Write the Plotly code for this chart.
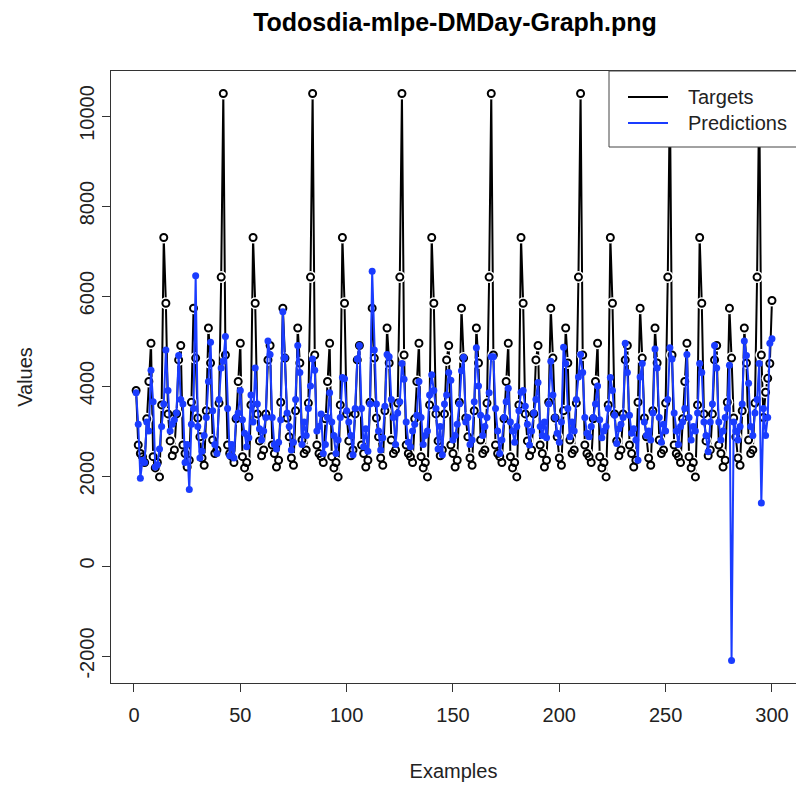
import plotly.graph_objects as go

examples = list(range(1, 301))

targets = [
    3900, 2690, 2500, 2430, 2300, 3270, 4100, 4950, 2430, 2180, 2300, 1980, 3580, 7300,
    5840, 3380, 2780, 2450, 2580, 3380, 4580, 4900, 2690, 2500, 2200, 2350, 3640, 5730,
    4620, 3290, 2870, 2400, 2240, 3450, 5290, 4510, 2800, 2500, 2580, 3620, 6420, 10500,
    4690, 2690, 2500, 2430, 2300, 3270, 4100, 4950, 2430, 2180, 2300, 1980, 3580, 7300,
    5840, 3380, 2780, 2450, 2580, 3380, 4580, 4900, 2690, 2500, 2200, 2350, 3640, 5730,
    4620, 3290, 2870, 2400, 2240, 3450, 5290, 4510, 2800, 2500, 2580, 3620, 6420, 10500,
    4690, 2690, 2500, 2430, 2300, 3270, 4100, 4950, 2430, 2180, 2300, 1980, 3580, 7300,
    5840, 3380, 2780, 2450, 2580, 3380, 4580, 4900, 2690, 2500, 2200, 2350, 3640, 5730,
    4620, 3290, 2870, 2400, 2240, 3450, 5290, 4510, 2800, 2500, 2580, 3620, 6420, 10500,
    4690, 2690, 2500, 2430, 2300, 3270, 4100, 4950, 2430, 2180, 2300, 1980, 3580, 7300,
    5840, 3380, 2780, 2450, 2580, 3380, 4580, 4900, 2690, 2500, 2200, 2350, 3640, 5730,
    4620, 3290, 2870, 2400, 2240, 3450, 5290, 4510, 2800, 2500, 2580, 3620, 6420, 10500,
    4690, 2690, 2500, 2430, 2300, 3270, 4100, 4950, 2430, 2180, 2300, 1980, 3580, 7300,
    5840, 3380, 2780, 2450, 2580, 3380, 4580, 4900, 2690, 2500, 2200, 2350, 3640, 5730,
    4620, 3290, 2870, 2400, 2240, 3450, 5290, 4510, 2800, 2500, 2580, 3620, 6420, 10500,
    4690, 2690, 2500, 2430, 2300, 3270, 4100, 4950, 2430, 2180, 2300, 1980, 3580, 7300,
    5840, 3380, 2780, 2450, 2580, 3380, 4580, 4900, 2690, 2500, 2200, 2350, 3640, 5730,
    4620, 3290, 2870, 2400, 2240, 3450, 5290, 4510, 2800, 2500, 2580, 3620, 6420, 10500,
    4690, 2690, 2500, 2430, 2300, 3270, 4100, 4950, 2430, 2180, 2300, 1980, 3580, 7300,
    5840, 3380, 2780, 2450, 2580, 3380, 4580, 4900, 2690, 2500, 2200, 2350, 3640, 5730,
    4620, 3290, 2870, 2400, 2240, 3450, 5290, 4510, 2800, 2500, 2580, 3620, 6420, 10500,
    4690, 3300, 3860, 4170, 4500, 5900,
]

predictions = [
    3850, 3150, 1950, 2350, 2300, 3200, 3000, 4350, 3650, 2200, 2250, 2600, 3100, 3600,
    4800, 3900, 3000, 3150, 3250, 3400, 4680, 3700, 3600, 2300, 2700, 1700, 3150, 3500,
    6450, 3100, 2400, 2550, 2900, 3300, 4100, 4970, 3450, 2700, 2500, 3700, 4400, 4550,
    5100, 3500, 2450, 2700, 2400, 3300, 3400, 3900, 3250, 2950, 2650, 2850, 3800, 3200,
    4400, 3600, 3050, 2800, 3000, 3300, 5000, 4700, 3300, 2700, 2600, 2750, 3250, 5650,
    4630, 3400, 3100, 2580, 2750, 3700, 4900, 4300, 2700, 3200, 2900, 3500, 4000, 4600,
    4350, 3000, 3100, 3380, 2500, 2700, 3300, 3850, 3200, 2900, 2500, 2800, 3300, 4190,
    4160, 3450, 3200, 2900, 2470, 3500, 4600, 4900, 3500, 2650, 3050, 2550, 3600, 6550,
    4800, 3600, 3000, 2580, 2850, 3550, 4700, 4650, 3700, 3300, 2700, 3400, 3650, 4500,
    4150, 3200, 2750, 2650, 3000, 3150, 3350, 4100, 3300, 2700, 2900, 3000, 3800, 4250,
    3900, 3500, 2600, 3100, 2470, 3600, 3800, 4300, 4130, 2800, 2900, 3150, 3600, 4340,
    4640, 3200, 3300, 2700, 2800, 3650, 4850, 4000, 3350, 2900, 3100, 3300, 3850, 4650,
    4650, 3500, 3000, 2500, 2800, 3300, 3650, 3950, 3200, 3000, 2750, 3100, 3450, 3860,
    3900, 3550, 3150, 2690, 3000, 3400, 3700, 4080, 3100, 2900, 3200, 2850, 3600, 4550,
    3800, 3300, 2950, 2750, 3200, 4860, 4500, 3500, 2870, 3200, 3000, 3700, 4200, 4700,
    4300, 3300, 2950, 2870, 3100, 3300, 3600, 4000, 3250, 2850, 3000, 3100, 3500, 4190,
    3900, 3350, 2720, 3050, 3150, 3300, 4950, 4300, 3350, 2950, 3050, 2800, 2350, 4200,
    4500, 3200, 2900, 3000, 2800, 3400, 4820, 4400, 3300, 2750, 3150, 3000, 3700, 4850,
    4600, 3400, 3000, 2700, 3100, 3200, 3500, 4700, 3300, 2800, 3100, 3000, 3400, 4500,
    4300, 3200, 2900, 2540, 3200, 3600, 4900, 4400, 3200, 2800, 3000, 3300, 3500, 4460,
    -2100, 3200, 3000, 2800, 3100, 3600, 5000, 4680, 4060, 3100, 2900, 3400, 3700, 4500,
    1400, 3500, 2900, 3300, 4950, 5050,
]

y_ticks = [-2000, 0, 2000, 4000, 6000, 8000, 10000]
y_tick_labels = ["-2000", "0", "2000", "4000", "6000", "8000", "10000"]
x_ticks = [0, 50, 100, 150, 200, 250, 300]
x_tick_labels = ["0", "50", "100", "150", "200", "250", "300"]

BLUE = "#1a3cff"
FONT = "Liberation Sans, Arial, sans-serif"
TXT = "#222222"

fig = go.Figure()
fig.add_trace(go.Scatter(x=examples, y=targets, mode="lines",
                         line=dict(color="black", width=2), showlegend=False, hoverinfo="skip"))
fig.add_trace(go.Scatter(x=examples, y=targets, mode="markers",
                         marker=dict(symbol="circle", size=12, color="white", line=dict(width=0)),
                         showlegend=False, hoverinfo="skip"))
fig.add_trace(go.Scatter(x=examples, y=targets, mode="markers", name="Targets",
                         marker=dict(symbol="circle-open", size=7, color="black",
                                     line=dict(width=2, color="black")), showlegend=False))
fig.add_trace(go.Scatter(x=examples, y=predictions, mode="lines+markers", name="Predictions",
                         line=dict(color=BLUE, width=2),
                         marker=dict(size=7, color=BLUE), showlegend=False))

W, H = 796, 792
L, R, T, B = 111, 0, 71, 109
pw, ph = W - L - R, H - T - B

def px(xp):
    return (xp - L) / pw

def py(yp):
    return (H - B - yp) / ph

shapes = [
    dict(type="rect", xref="paper", yref="paper", x0=px(609), x1=px(805), y0=py(147), y1=py(71),
         line=dict(color="#444", width=1), fillcolor="white", layer="above"),
    dict(type="line", xref="paper", yref="paper", x0=px(628), x1=px(668), y0=py(97), y1=py(97),
         line=dict(color="black", width=2), layer="above"),
    dict(type="line", xref="paper", yref="paper", x0=px(628), x1=px(668), y0=py(123), y1=py(123),
         line=dict(color=BLUE, width=2), layer="above"),
]
annotations = [
    dict(xref="paper", yref="paper", x=px(686), y=py(97), text="Targets", showarrow=False,
         xanchor="left", yanchor="middle", font=dict(family=FONT, size=20, color=TXT)),
    dict(xref="paper", yref="paper", x=px(686), y=py(123), text="Predictions", showarrow=False,
         xanchor="left", yanchor="middle", font=dict(family=FONT, size=20, color=TXT)),
]

fig.update_layout(
    width=W, height=H,
    margin=dict(l=L, r=R, t=T, b=B),
    paper_bgcolor="white", plot_bgcolor="white",
    font=dict(family=FONT, size=20, color=TXT),
    title=dict(text="<b>Todosdia-mlpe-DMDay-Graph.png</b>", x=455 / W,
               xanchor="center", y=1 - 22 / H, yanchor="middle",
               font=dict(family=FONT, size=25, color="black")),
    shapes=shapes, annotations=annotations,
    xaxis=dict(range=[-10.81, 311.3], tickvals=x_ticks, ticktext=x_tick_labels,
               ticks="outside", ticklen=8, ticklabelstandoff=6,
               tickcolor="#333", showline=True, linecolor="#333", linewidth=1, mirror=True,
               showgrid=False, zeroline=False,
               title=dict(text="Examples", standoff=38, font=dict(size=20))),
    yaxis=dict(range=[-2600, 11000], tickvals=y_ticks, ticktext=y_tick_labels,
               ticks="outside", ticklen=8,
               tickcolor="#333", showline=True, linecolor="#333", linewidth=1, mirror=False,
               showgrid=False, zeroline=False, tickangle=-90,
               title=dict(text="Values", standoff=38, font=dict(size=20))),
)

fig.write_html("out.html")
